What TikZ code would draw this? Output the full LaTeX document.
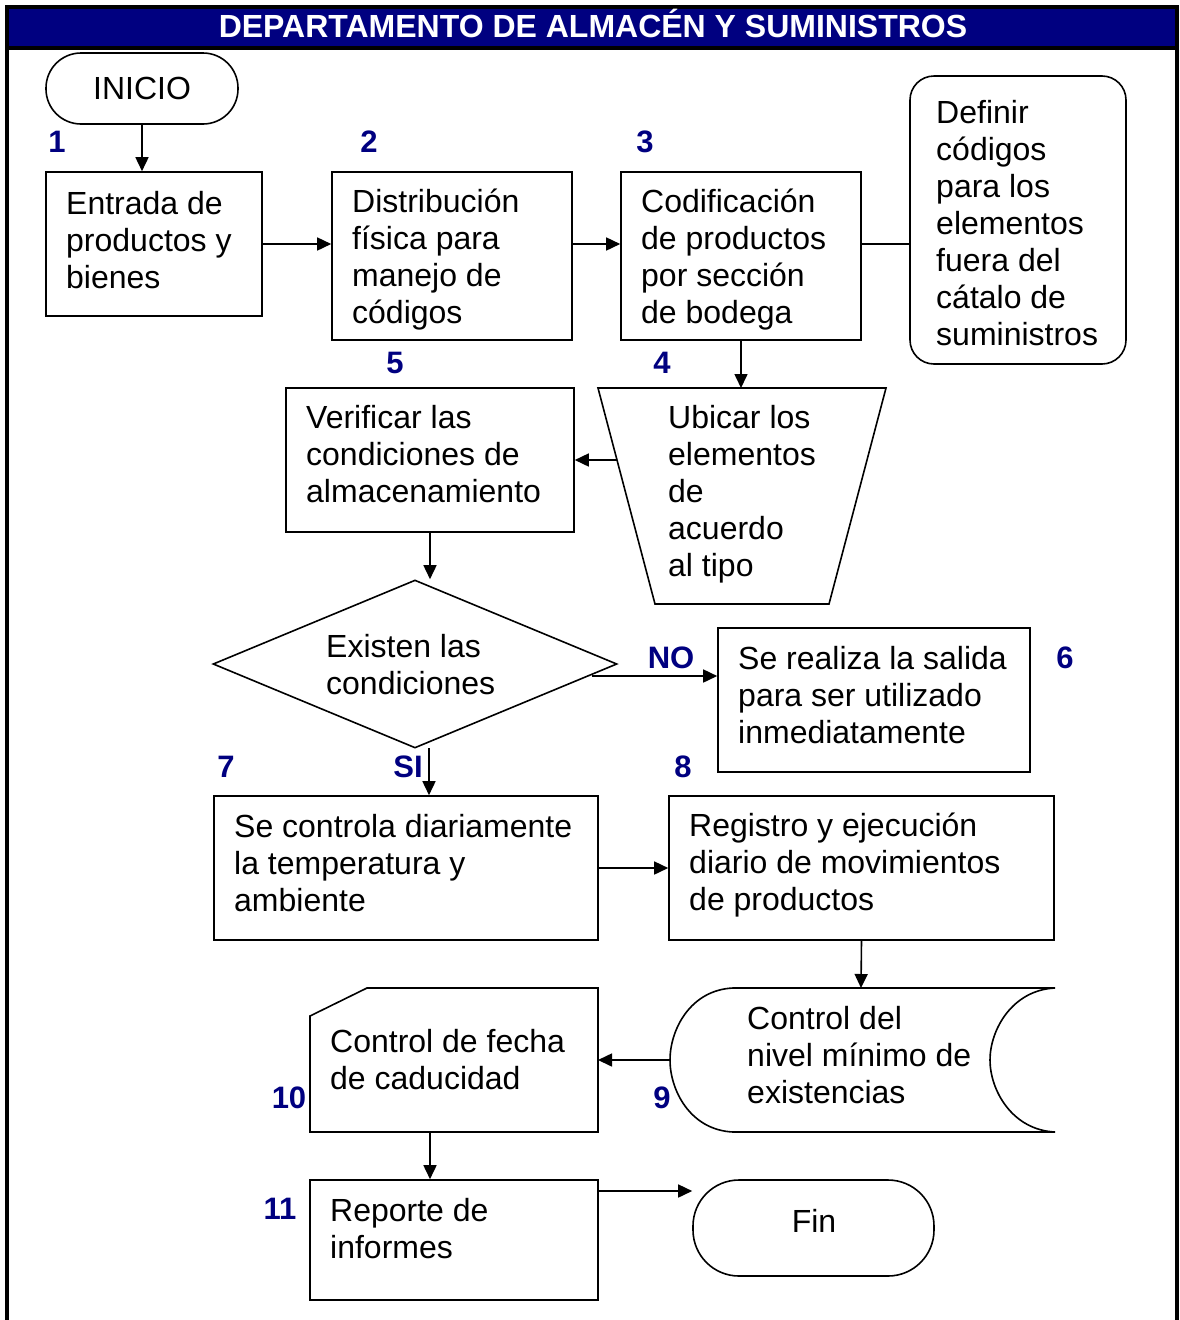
\documentclass[tikz,border=0pt]{standalone}
\usepackage{fontspec}
\setmainfont{Liberation Sans}
\usetikzlibrary{arrows.meta,shapes.geometric}
\definecolor{navy}{RGB}{0,0,128}

\begin{document}
\begin{tikzpicture}[x=1pt,y=-1pt,
  shapeline/.style={draw=black,line width=1.6pt},
  box/.style={shapeline,rectangle,inner sep=0pt},
  % multi-line texts: anchored on the baseline of their last line
  txt/.style={anchor=base west,inner sep=0pt,align=left,font=\fontsize{32}{37}\selectfont},
  num/.style={anchor=base,inner sep=0pt,text=navy,font=\bfseries\fontsize{31}{37}\selectfont},
  flow/.style={line width=1.6pt,-{Triangle[length=14pt,width=13pt]}},
  link/.style={line width=1.6pt}]
\useasboundingbox (0,0) rectangle (1179,1320);

% frame and title band
\fill[navy] (9,9) rectangle (1175,46);
\draw[line width=4pt] (7,1320) -- (7,7) -- (1177,7) -- (1177,1320);
\draw[line width=4pt] (7,48) -- (1177,48);
\node[anchor=base,inner sep=0pt,text=white,font=\bfseries\fontsize{32}{37}\selectfont] (title) at (593,37)
  {DEPARTAMENTO DE ALMACÉN Y SUMINISTROS};

% terminals and process boxes
\node[box,rounded corners=35pt,minimum width=192pt,minimum height=71pt,font=\fontsize{32}{37}\selectfont] (ini) at (142,88.5) {INICIO};
\node[box,minimum width=216pt,minimum height=144pt] (b1) at (154,244) {};
\node[box,minimum width=240pt,minimum height=168pt] (b2) at (452,256) {};
\node[box,minimum width=240pt,minimum height=168pt] (b3) at (741,256) {};
\node[box,rounded corners=24pt,minimum width=216pt,minimum height=288pt] (def) at (1018,220) {};
\node[box,minimum width=288pt,minimum height=144pt] (b5) at (430,460) {};
\node[diamond,shapeline,inner sep=0pt,minimum width=404pt,minimum height=168pt] (dia) at (415,664) {};
\node[box,minimum width=312pt,minimum height=144pt] (b6) at (874,700) {};
\node[box,minimum width=384pt,minimum height=144pt] (b7) at (406,868) {};
\node[box,minimum width=385pt,minimum height=144pt] (b8) at (861.5,868) {};
\node[box,minimum width=288pt,minimum height=120pt] (b11) at (454,1240) {};
\node[box,rounded corners=46pt,minimum width=241pt,minimum height=96pt] (fin) at (813.5,1228) {};

% manual operation (trapezoid)
\draw[shapeline] (598,388) -- (886,388) -- (829,604) -- (655,604) -- cycle;
\coordinate (trapTop) at (741,388);
\coordinate (trapLeft) at (617,460);

% stored data
\draw[shapeline] (733,988) -- (1055,988)
  .. controls (1012,990) and (990,1030) .. (990,1060)
  .. controls (990,1090) and (1012,1130) .. (1055,1132)
  -- (733,1132)
  .. controls (690,1130) and (670,1090) .. (670,1060)
  .. controls (670,1030) and (690,990) .. (733,988) -- cycle;
\coordinate (tapeTop) at (861,988);
\coordinate (tapeLeft) at (670,1060);

% card
\draw[shapeline] (310,1016) -- (367,988) -- (598,988) -- (598,1132) -- (310,1132) -- cycle;
\coordinate (cardEast) at (598,1060);
\coordinate (cardBottom) at (430,1132);

% texts
\node[txt] (t1) at (66,288) {Entrada de\\productos y\\bienes};
\node[txt] (t2) at (352,323) {Distribución\\física para\\manejo de\\códigos};
\node[txt] (t3) at (641,323) {Codificación\\de productos\\por sección\\de bodega};
\node[txt] (tdef) at (936,345) {Definir\\códigos\\para los\\elementos\\fuera del\\cátalo de\\suministros};
\node[txt] (t5) at (306,502) {Verificar las\\condiciones de\\almacenamiento};
\node[txt] (t4) at (668,576) {Ubicar los\\elementos\\de\\acuerdo\\al tipo};
\node[txt] (tdia) at (326,694) {Existen las\\condiciones};
\node[txt] (t6) at (738,743) {Se realiza la salida\\para ser utilizado\\inmediatamente};
\node[txt] (t7) at (234,911) {Se controla diariamente\\la temperatura y\\ambiente};
\node[txt] (t8) at (689,910) {Registro y ejecución\\diario de movimientos\\de productos};
\node[txt] (t9) at (747,1103) {Control del\\nivel mínimo de\\existencias};
\node[txt] (t10) at (330,1089) {Control de fecha\\de caducidad};
\node[txt] (t11) at (330,1258) {Reporte de\\informes};
\node[anchor=base,inner sep=0pt,font=\fontsize{32}{37}\selectfont] (tfin) at (814,1232) {Fin};

% step numbers and branch labels
\node[num] (n1) at (57,152) {1};
\node[num] (n2) at (369,152) {2};
\node[num] (n3) at (645,152) {3};
\node[num] (n5) at (395,373) {5};
\node[num] (n4) at (662,373) {4};
\node[num] (lno) at (671,668) {NO};
\node[num] (n6) at (1065,668) {6};
\node[num] (lsi) at (408,777) {SI};
\node[num] (n7) at (226,777) {7};
\node[num] (n8) at (683,777) {8};
\node[num] (n9) at (662,1108) {9};
\node[num] (n10) at (289,1108) {10};
\node[num] (n11) at (280,1219) {11};

% connectors
\coordinate (noStart) at (592,676);
\coordinate (siStart) at (429,748);
\coordinate (finOut) at (598,1191);
\draw[flow] (ini.south) -- (ini.south |- b1.north);
\draw[flow] (b1.east) -- (b2.west |- b1.east);
\draw[flow] (b2.east |- b1.east) -- (b3.west |- b1.east);
\draw[link] (b3.east |- b1.east) -- (def.west |- b1.east);
\draw[flow] (b3.south) -- (trapTop);
\draw[flow] (trapLeft) -- (b5.east);
\draw[flow] (b5.south) -- (b5.south |- dia.north);
\draw[flow] (noStart) -- (b6.west |- noStart);
\draw[flow] (siStart) -- (siStart |- b7.north);
\draw[flow] (b7.east) -- (b8.west);
\draw[flow] (b8.south) -- (tapeTop);
\draw[flow] (tapeLeft) -- (cardEast);
\draw[flow] (cardBottom) -- (cardBottom |- b11.north);
\draw[flow] (finOut) -- (fin.west |- finOut);
\end{tikzpicture}
\end{document}
